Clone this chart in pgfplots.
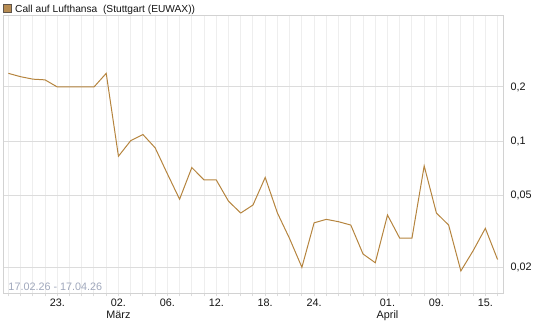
\documentclass[border=0pt]{standalone}
\usepackage{pgfplots}
\pgfplotsset{compat=1.18}
\usepackage{fontspec}
\setmainfont{Liberation Sans}
\definecolor{linec}{RGB}{181,132,62}
\definecolor{legc}{RGB}{183,140,82}
\definecolor{sqb}{RGB}{95,85,75}
\definecolor{hgrid}{RGB}{220,220,220}
\definecolor{vgrid}{RGB}{238,238,238}
\definecolor{bordc}{RGB}{210,210,210}
\definecolor{datec}{RGB}{160,168,188}
\definecolor{txtc}{RGB}{20,20,20}
\pgfplotstableread{
x y
0 0.238
1 0.228
2 0.221
3 0.219
4 0.200
5 0.200
6 0.200
7 0.200
8 0.238
9 0.0826
10 0.1007
11 0.109
12 0.092
13 0.066
14 0.0477
15 0.0715
16 0.061
17 0.061
18 0.0465
19 0.040
20 0.0443
21 0.063
22 0.040
23 0.0288
24 0.020
25 0.0353
26 0.0369
27 0.0358
28 0.0343
29 0.0237
30 0.0212
31 0.039
32 0.029
33 0.029
34 0.073
35 0.040
36 0.0343
37 0.0191
38 0.0247
39 0.0329
40 0.0221
}\datatable
\begin{document}
\begin{tikzpicture}[x=1bp,y=1bp]
\useasboundingbox (0,0) rectangle (545,327);
\begin{axis}[
  at={(3bp,33.7bp)}, anchor=south west,
  scale only axis, width=500.3bp, height=277.3bp,
  ymode=log,
  xmin=-0.44, xmax=40.47, ymin=0.01435, ymax=0.495,
  axis line style={draw=bordc, line width=1bp},
  xtick={4,9,13,17,21,25,31,35,39},
  xticklabels={23.,{02.\\März},06.,12.,18.,24.,{01.\\April},09.,15.},
  minor xtick={0,1,...,40},
  xminorgrids=true, xmajorgrids=false,
  ytick={0.02,0.05,0.1,0.2},
  yticklabels={{0,02},{0,05},{0,1},{0,2}},
  minor ytick={},
  ymajorgrids=true,
  major grid style={draw=hgrid, line width=1bp},
  minor grid style={draw=vgrid, line width=1bp},
  tick align=outside,
  xtick pos=bottom,
  ytick pos=right,
  yticklabel pos=right,
  major tick length=3bp, minor tick length=3bp,
  every tick/.style={draw=hgrid, line width=1bp},
  every y tick/.style={draw=none},
  every minor tick/.style={draw=hgrid, line width=1bp},
  xticklabel style={font=\fontsize{10.8bp}{12bp}\selectfont, text=txtc, align=center, inner sep=0pt, anchor=north, yshift=-2.5bp},
  yticklabel style={font=\fontsize{10.8bp}{12bp}\selectfont, text=txtc, inner sep=0pt, anchor=west, xshift=4bp},
  clip=true,
]
\addplot[linec, line width=1bp, mark=none] table[x=x, y=y] {\datatable};
\end{axis}
\draw[draw=sqb, fill=legc, line width=0.8bp] (3.2,314.8) rectangle (11.2,322.8);
\node[anchor=base west, inner sep=0pt, text=txtc, font=\fontsize{10.2bp}{12bp}\selectfont] at (15,314.3) {Call auf Lufthansa\ \ (Stuttgart (EUWAX))};
\node[anchor=base west, inner sep=0pt, text=datec, font=\fontsize{10.8bp}{12bp}\selectfont] at (8.3,37) {17.02.26 - 17.04.26};
\end{tikzpicture}
\end{document}
